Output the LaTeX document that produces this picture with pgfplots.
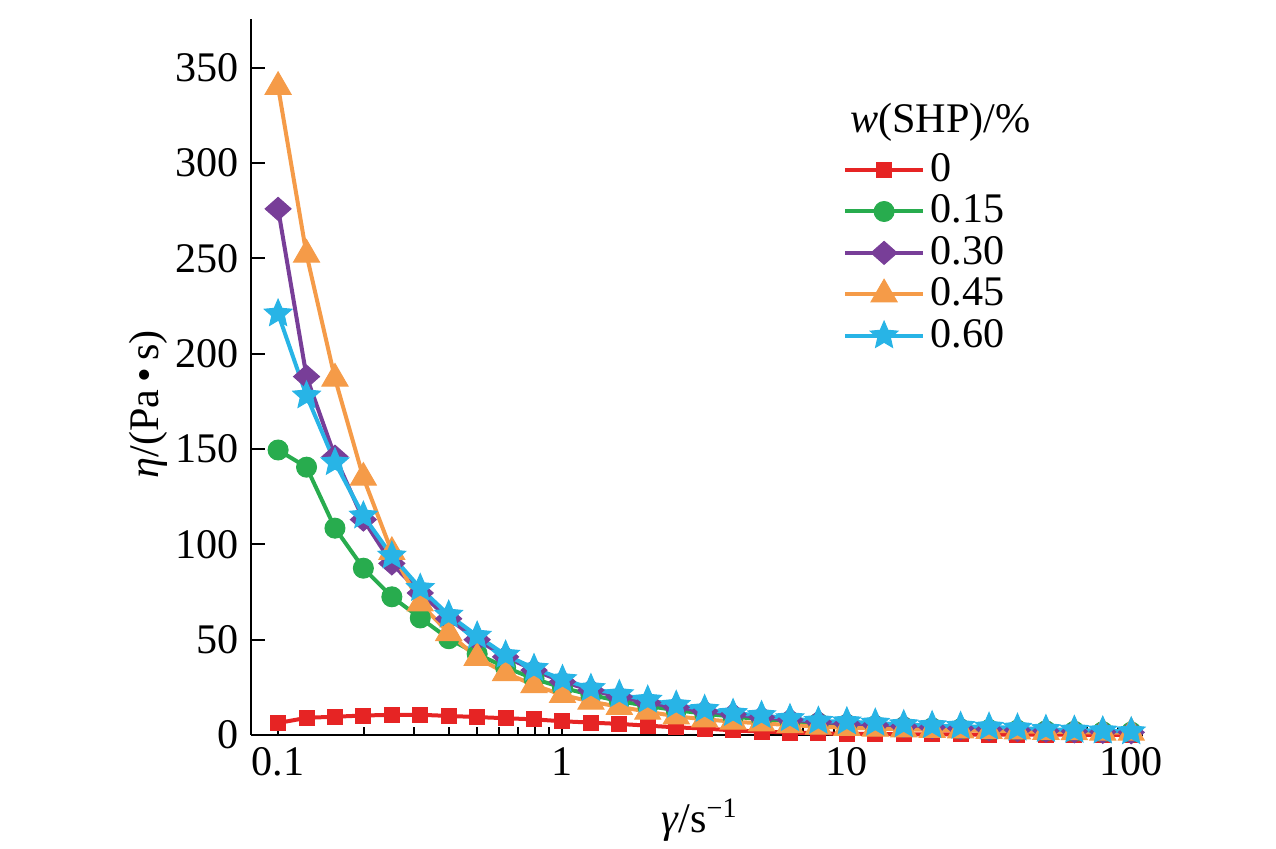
\documentclass[border=0pt]{standalone}
\usepackage{fontspec}
\setmainfont{Liberation Serif}
\usepackage{pgfplots}
\pgfplotsset{compat=1.18}
\usepackage{pgfplotstable}

\definecolor{cRed}{RGB}{230,36,36}
\definecolor{cGreen}{RGB}{40,172,78}
\definecolor{cPurple}{RGB}{120,62,152}
\definecolor{cOrange}{RGB}{245,155,72}
\definecolor{cBlue}{RGB}{40,180,230}

\pgfdeclareplotmark{mytri}{%
  \pgfpathmoveto{\pgfpointpolar{90}{\pgfplotmarksize}}%
  \pgfpathlineto{\pgfpointpolar{210}{\pgfplotmarksize}}%
  \pgfpathlineto{\pgfpointpolar{330}{\pgfplotmarksize}}%
  \pgfpathclose\pgfusepathqfillstroke}
\pgfdeclareplotmark{mydia}{%
  \pgfpathmoveto{\pgfpoint{0pt}{\pgfplotmarksize}}%
  \pgfpathlineto{\pgfpoint{1.13\pgfplotmarksize}{0pt}}%
  \pgfpathlineto{\pgfpoint{0pt}{-\pgfplotmarksize}}%
  \pgfpathlineto{\pgfpoint{-1.13\pgfplotmarksize}{0pt}}%
  \pgfpathclose\pgfusepathqfillstroke}
\pgfdeclareplotmark{mystar}{%
  \pgfpathmoveto{\pgfpointpolar{90}{\pgfplotmarksize}}%
  \pgfpathlineto{\pgfpointpolar{126}{0.46\pgfplotmarksize}}%
  \pgfpathlineto{\pgfpointpolar{162}{\pgfplotmarksize}}%
  \pgfpathlineto{\pgfpointpolar{198}{0.46\pgfplotmarksize}}%
  \pgfpathlineto{\pgfpointpolar{234}{\pgfplotmarksize}}%
  \pgfpathlineto{\pgfpointpolar{270}{0.46\pgfplotmarksize}}%
  \pgfpathlineto{\pgfpointpolar{306}{\pgfplotmarksize}}%
  \pgfpathlineto{\pgfpointpolar{342}{0.46\pgfplotmarksize}}%
  \pgfpathlineto{\pgfpointpolar{18}{\pgfplotmarksize}}%
  \pgfpathlineto{\pgfpointpolar{54}{0.46\pgfplotmarksize}}%
  \pgfpathclose\pgfusepathqfillstroke}

\pgfplotstableread{
x        a     b      c     d     e
0.1      6.3   149.5  276   340   221
0.1259   9.0   140.5  188   252   178
0.1585   9.6   108.5  146   187   143
0.1995   10.2  87.5   113   135   115
0.2512   10.6  72.5   90    96    94
0.3162   10.6  61.4   74.5  69    77
0.3981   10.0  50.5   61    53.5  63
0.5012   9.4   42.5   50    40.5  52
0.6310   8.8   35.5   41    32.5  42
0.7943   8.2   29.5   34    26.2  35
1        7.2   24.8   28    21    29.2
1.259    6.5   21     23.5  17.5  24.5
1.585    5.8   17.8   20    14.8  21.3
1.995    4.9   15.2   17    12.2  18.4
2.512    4.0   13     14.5  9.8   15.7
3.162    3.4   11.2   12.5  8.2   13.5
3.981    2.4   9.6    10.8  7.0   11.4
5.012    1.8   8.3    9.3   6.1   10.3
6.310    1.3   7.2    8.0   5.2   8.7
7.943    0.9   6.3    6.9   4.4   7.3
10       0.6   5.5    6.0   3.8   7.0
12.59    0.5   4.8    5.3   3.4   6.3
15.85    0.4   4.2    4.6   3.0   5.5
19.95    0.3   3.7    4.0   2.7   5.0
25.12    0.3   3.2    3.5   2.4   4.6
31.62    0.2   2.8    3.0   2.1   4.2
39.81    0.2   2.5    2.6   1.9   3.7
50.12    0.2   2.2    2.2   1.7   3.0
63.10    0.1   1.9    1.9   1.5   2.6
79.43    0.1   1.7    1.6   1.3   2.2
100      0.1   1.5    1.4   1.2   1.8
}\datatable

\begin{document}
\begin{tikzpicture}
\useasboundingbox (-25.1mm,-11.4mm) rectangle (102.5mm,73.5mm);
\begin{axis}[
  at={(0,0)}, anchor=south west, scale only axis,
  width=89.2mm, height=71.6mm,
  xmode=log, xmin=0.0803, xmax=110, ymin=0, ymax=375.6,
  clip=false,
  axis x line*=bottom, axis y line*=left,
  axis line style={line width=0.2mm, black},
  tick align=inside, major tick length=1.4mm, minor tick length=0.8mm,
  every tick/.style={black, line width=0.2mm},
  xtick={0.1,1,10,100}, xticklabels={0.1,1,10,100},
  ytick={0,50,100,150,200,250,300,350},
  font=\fontsize{12pt}{14pt}\selectfont,
  /pgf/number format/assume math mode=true,
  xlabel={\textit{γ}/s\textsuperscript{−1}},
  ylabel={\textit{η}/(Pa\,•\,s)},
  xlabel style={at={(axis description cs:0.503,-0.119)}, anchor=center},
  ylabel style={at={(axis description cs:-0.1155,0.462)}, anchor=center},
  legend style={draw=none, fill=none, at={(0.663,0.823)}, anchor=north west,
    inner sep=0pt, row sep=-0.6mm, nodes={inner xsep=1.5pt},
    font=\fontsize{12pt}{14pt}\selectfont},
  legend cell align=left,
  legend image code/.code={\draw[mark repeat=2,mark phase=2,#1] plot coordinates {(0mm,0mm) (3.9mm,0mm) (7.8mm,0mm)};},
  every axis plot/.append style={line width=0.4mm},
]
\addplot[cRed, mark=square*, mark size=0.75mm, mark options={fill=cRed, draw=cRed, line width=0.1mm}] table[x=x,y=a] {\datatable};
\addlegendentry{0}
\addplot[cGreen, mark=*, mark size=1.0mm, mark options={fill=cGreen, draw=cGreen, line width=0.1mm}] table[x=x,y=b] {\datatable};
\addlegendentry{0.15}
\addplot[cPurple, mark=mydia, mark size=1.15mm, mark options={fill=cPurple, draw=cPurple, line width=0.1mm}] table[x=x,y=c] {\datatable};
\addlegendentry{0.30}
\addplot[cOrange, mark=mytri, mark size=1.5mm, mark options={fill=cOrange, draw=cOrange, line width=0.1mm}] table[x=x,y=d] {\datatable};
\addlegendentry{0.45}
\addplot[cBlue, mark=mystar, mark size=1.45mm, mark options={fill=cBlue, draw=cBlue, line width=0.1mm}] table[x=x,y=e] {\datatable};
\addlegendentry{0.60}
\node[anchor=base west, font=\fontsize{12pt}{14pt}\selectfont] at (rel axis cs:0.658,0.841) {\textit{w}(SHP)/\%};
\end{axis}
\end{tikzpicture}
\end{document}
